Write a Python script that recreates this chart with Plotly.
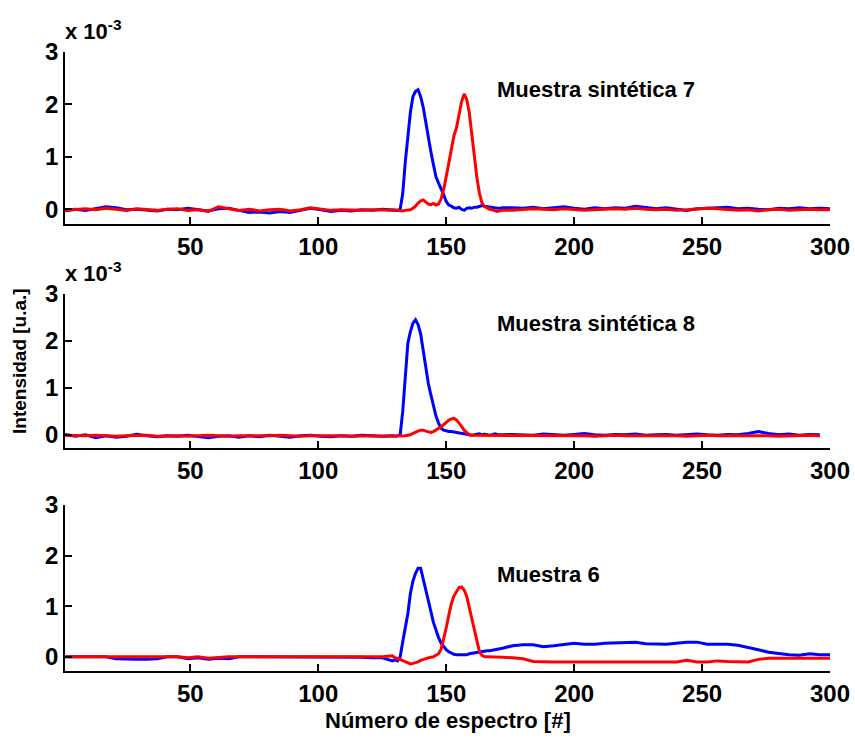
import plotly.graph_objects as go

W, H = 855, 738

# ---- x grid (spectrum number) ----
x_left = list(range(1, 130, 4))          # 1..129
x_peak = list(range(130, 173))           # 130..172
x_right = list(range(176, 297, 4)) + [300]
X = x_left + x_peak + x_right

# ---- Muestra sintética 7 (values in units of 1e-3) ----
b1_left = [-0.03, 0.00, -0.02, 0.01, 0.05, 0.03, -0.01, 0.00, -0.02, -0.03, 0.00, -0.01, 0.02, -0.01, -0.03, 0.01,
           0.02, -0.02, -0.06, -0.05, -0.07, -0.04, -0.06, -0.02, 0.02, -0.01, -0.04, -0.02, -0.03, -0.01, -0.02, 0.00, -0.02]
b1_peak = [-0.02, -0.02, 0.00, 0.30, 0.90, 1.45, 1.85, 2.15, 2.25, 2.28, 2.15, 1.95, 1.65, 1.35, 1.10, 0.85, 0.62, 0.50,
           0.40, 0.28, 0.15, 0.08, 0.06, 0.03, 0.02, 0.04, 0.00, -0.02, 0.02, 0.03, 0.02, 0.04, 0.04, 0.05, 0.07, 0.06,
           0.05, 0.04, 0.03, 0.03, 0.02, 0.02, 0.03]
b1_right = [0.03, 0.02, 0.04, 0.01, 0.03, 0.05, 0.02, 0.00, 0.03, 0.01, 0.03, 0.02, 0.06, 0.04, 0.01, 0.03, 0.00, -0.02,
            0.01, 0.02, 0.03, 0.04, 0.01, 0.02, 0.00, -0.01, 0.02, 0.01, 0.03, 0.01, 0.02, 0.01]
r1_left = [-0.02, 0.00, 0.01, -0.01, 0.02, 0.00, -0.02, 0.01, -0.01, -0.02, 0.00, 0.01, -0.02, -0.01, -0.04, 0.05, 0.01,
           -0.02, 0.00, -0.03, -0.01, 0.00, -0.03, -0.01, 0.03, 0.00, -0.02, -0.01, -0.02, -0.02, -0.01, -0.02, -0.02]
r1_peak = [-0.02, -0.02, -0.03, -0.03, -0.02, -0.02, -0.01, 0.02, 0.06, 0.12, 0.16, 0.18, 0.14, 0.10, 0.09, 0.11, 0.08,
           0.10, 0.20, 0.38, 0.62, 0.90, 1.15, 1.40, 1.55, 1.80, 2.05, 2.20, 2.10, 1.85, 1.40, 1.00, 0.60, 0.30, 0.12,
           0.05, 0.02, 0.00, -0.01, -0.02, -0.04, -0.03, -0.02]
r1_right = [-0.02, 0.00, 0.01, 0.00, -0.01, 0.01, 0.00, -0.02, -0.01, 0.00, 0.01, 0.00, 0.02, 0.00, -0.01, 0.00, -0.02,
            -0.01, 0.00, 0.02, 0.01, 0.00, -0.02, -0.01, -0.03, -0.01, 0.00, -0.02, -0.01, 0.00, -0.01, -0.01]

# ---- Muestra sintética 8 ----
b2_left = [0.01, -0.03, 0.00, -0.06, -0.02, -0.05, -0.03, 0.01, -0.02, -0.04, -0.02, -0.03, -0.01, -0.04, -0.06, -0.03,
           -0.02, -0.05, -0.02, -0.04, -0.01, -0.03, -0.05, -0.02, -0.01, -0.03, -0.04, -0.02, -0.03, -0.01, -0.02, -0.03, -0.02]
b2_peak = [-0.03, -0.02, 0.00, 0.50, 1.30, 1.95, 2.20, 2.38, 2.45, 2.35, 2.15, 1.80, 1.40, 1.10, 0.85, 0.60, 0.40, 0.25,
           0.14, 0.10, 0.08, 0.07, 0.07, 0.06, 0.05, 0.04, 0.03, 0.02, 0.01, 0.00, -0.01, 0.00, 0.01, 0.02, 0.00, 0.01,
           0.00, -0.01, 0.00, 0.02, 0.01, 0.00, 0.00]
b2_right = [0.01, 0.00, -0.01, 0.02, 0.00, -0.01, 0.01, 0.03, 0.00, -0.01, 0.01, 0.00, 0.02, -0.01, 0.00, 0.01, -0.01,
            0.00, 0.02, 0.00, -0.01, 0.01, 0.00, 0.03, 0.07, 0.03, 0.00, 0.02, -0.01, 0.01, 0.00, None]
r2_left = [-0.01, -0.02, -0.02, -0.01, -0.02, -0.03, -0.02, -0.02, -0.01, -0.03, -0.02, -0.02, -0.03, -0.02, -0.01, -0.02,
           -0.03, -0.02, -0.02, -0.03, -0.02, -0.01, -0.02, -0.03, -0.02, -0.02, -0.01, -0.02, -0.03, -0.02, -0.02, -0.03, -0.03]
r2_peak = [-0.02, -0.03, -0.02, -0.02, -0.02, -0.01, 0.00, 0.03, 0.06, 0.08, 0.10, 0.10, 0.08, 0.06, 0.05, 0.07, 0.10,
           0.13, 0.17, 0.22, 0.27, 0.31, 0.34, 0.35, 0.32, 0.26, 0.18, 0.10, 0.04, 0.00, -0.01, -0.01, -0.02, -0.01,
           -0.02, -0.02, -0.01, -0.02, -0.02, -0.01, -0.02, -0.02, -0.02]
r2_right = [-0.02, -0.02, -0.01, -0.02, -0.02, -0.01, -0.02, -0.02, -0.03, -0.02, -0.01, -0.02, -0.02, -0.02, -0.01,
            -0.02, -0.02, -0.03, -0.02, -0.01, -0.02, -0.02, -0.02, -0.01, -0.02, -0.02, -0.03, -0.02, -0.02, -0.01, -0.02, None]

# ---- Muestra 6 ----
b3_left = [0.00, 0.00, 0.00, 0.00, 0.00, -0.04, -0.05, -0.05, -0.05, -0.04, 0.00, 0.00, -0.04, -0.02, -0.05, -0.03, -0.04,
           0.00, 0.00, 0.00, 0.00, 0.00, 0.00, 0.00, 0.00, 0.00, 0.00, 0.00, 0.00, -0.01, -0.02, -0.02, -0.08]
b3_peak = [-0.06, -0.08, 0.00, 0.30, 0.55, 0.85, 1.25, 1.50, 1.65, 1.75, 1.75, 1.55, 1.30, 1.12, 0.90, 0.68, 0.52, 0.38,
           0.27, 0.20, 0.14, 0.10, 0.07, 0.05, 0.04, 0.04, 0.03, 0.04, 0.04, 0.06, 0.07, 0.08, 0.08, 0.09, 0.10, 0.11,
           0.12, 0.12, 0.13, 0.13, 0.14, 0.15, 0.17]
b3_right = [0.22, 0.24, 0.24, 0.20, 0.22, 0.25, 0.27, 0.25, 0.25, 0.27, 0.28, 0.29, 0.29, 0.26, 0.25, 0.25, 0.27, 0.29,
            0.29, 0.25, 0.25, 0.25, 0.23, 0.19, 0.14, 0.09, 0.065, 0.04, 0.03, 0.06, 0.04, 0.04]
r3_left = [0.00, 0.00, 0.00, 0.00, 0.00, 0.00, 0.00, 0.00, 0.00, 0.00, 0.00, 0.00, -0.02, 0.00, -0.03, -0.01, 0.00, 0.00,
           0.00, 0.00, 0.00, 0.00, 0.00, 0.00, 0.00, 0.00, 0.00, 0.00, 0.00, 0.00, 0.00, 0.00, 0.02]
r3_peak = [-0.02, -0.03, -0.05, -0.08, -0.10, -0.12, -0.14, -0.13, -0.12, -0.10, -0.07, -0.05, -0.04, -0.02, -0.01, 0.00,
           0.03, 0.06, 0.15, 0.35, 0.57, 0.82, 1.05, 1.20, 1.30, 1.37, 1.38, 1.32, 1.20, 0.98, 0.75, 0.55, 0.30, 0.10,
           0.03, 0.00, 0.00, 0.00, 0.00, 0.00, 0.00, -0.01, -0.01]
r3_right = [-0.02, -0.04, -0.09, -0.10, -0.10, -0.10, -0.10, -0.10, -0.10, -0.10, -0.10, -0.10, -0.10, -0.10, -0.10,
            -0.10, -0.10, -0.07, -0.10, -0.10, -0.08, -0.09, -0.10, -0.10, -0.05, -0.03, -0.03, -0.03, -0.03, -0.03, -0.03, -0.03]

panels = [
    (b1_left + b1_peak + b1_right, r1_left + r1_peak + r1_right, "Muestra sintética 7", 2.28, True),
    (b2_left + b2_peak + b2_right, r2_left + r2_peak + r2_right, "Muestra sintética 8", 2.38, True),
    (b3_left + b3_peak + b3_right, r3_left + r3_peak + r3_right, "Muestra 6", 1.63, False),
]

x_ticks = [50, 100, 150, 200, 250, 300]
y_ticks = [0, 1, 2, 3]

# pixel boxes of the three axes (top, bottom)
boxes = [(52, 224), (294, 448), (505, 671)]
X0, X1 = 65, 830

FONT = "Liberation Sans, Arial, Helvetica, sans-serif"
fig = go.Figure()
annotations = []
for i, ((blue, red, label, ly, expo), (top, bot)) in enumerate(zip(panels, boxes)):
    n = i + 1
    xa = "x" if n == 1 else f"x{n}"
    ya = "y" if n == 1 else f"y{n}"
    fig.add_trace(go.Scatter(x=X, y=blue, mode="lines", line=dict(color="#0000ff", width=3),
                             xaxis=xa, yaxis=ya, showlegend=False, connectgaps=False))
    fig.add_trace(go.Scatter(x=X, y=red, mode="lines", line=dict(color="#ff0000", width=3),
                             xaxis=xa, yaxis=ya, showlegend=False, connectgaps=False))
    axcommon = dict(showline=True, linecolor="black", linewidth=1.5, ticks="inside", ticklen=7,
                    tickwidth=1.5, tickcolor="black", showgrid=False, zeroline=False,
                    tickfont=dict(family=FONT, size=24, color="black", weight="bold"))
    fig.update_layout(**{
        ("xaxis" if n == 1 else f"xaxis{n}"): dict(
            domain=[X0 / W, X1 / W], range=[1, 300], tickvals=x_ticks, anchor=ya, **axcommon),
        ("yaxis" if n == 1 else f"yaxis{n}"): dict(
            domain=[1 - bot / H, 1 - top / H], range=[-0.28, 3], tickvals=y_ticks, anchor=xa, **axcommon),
    })
    annotations.append(dict(x=169, y=ly, xref=xa, yref=ya, text=label, showarrow=False,
                            xanchor="left", yanchor="middle",
                            font=dict(family=FONT, size=22, color="black", weight="bold")))
    if expo:
        annotations.append(dict(x=63 / W, y=1 - (top - 6) / H, xref="paper", yref="paper",
                                text="x 10<sup>-3</sup>", showarrow=False, xanchor="left", yanchor="bottom",
                                font=dict(family=FONT, size=22, color="black", weight="bold")))

annotations.append(dict(x=448 / W, y=1 - 720 / H, xref="paper", yref="paper", text="Número de espectro [#]",
                        showarrow=False, xanchor="center", yanchor="middle",
                        font=dict(family=FONT, size=22, color="black", weight="bold")))
annotations.append(dict(x=20 / W, y=1 - 361 / H, xref="paper", yref="paper", text="Intensidad [u.a.]",
                        showarrow=False, xanchor="center", yanchor="middle", textangle=-90,
                        font=dict(family=FONT, size=19, color="black", weight="bold")))

fig.update_layout(width=W, height=H, margin=dict(l=0, r=0, t=0, b=0), template="none",
                  paper_bgcolor="white", plot_bgcolor="white", annotations=annotations,
                  font=dict(family=FONT, color="black"))
fig.write_html("out.html")
